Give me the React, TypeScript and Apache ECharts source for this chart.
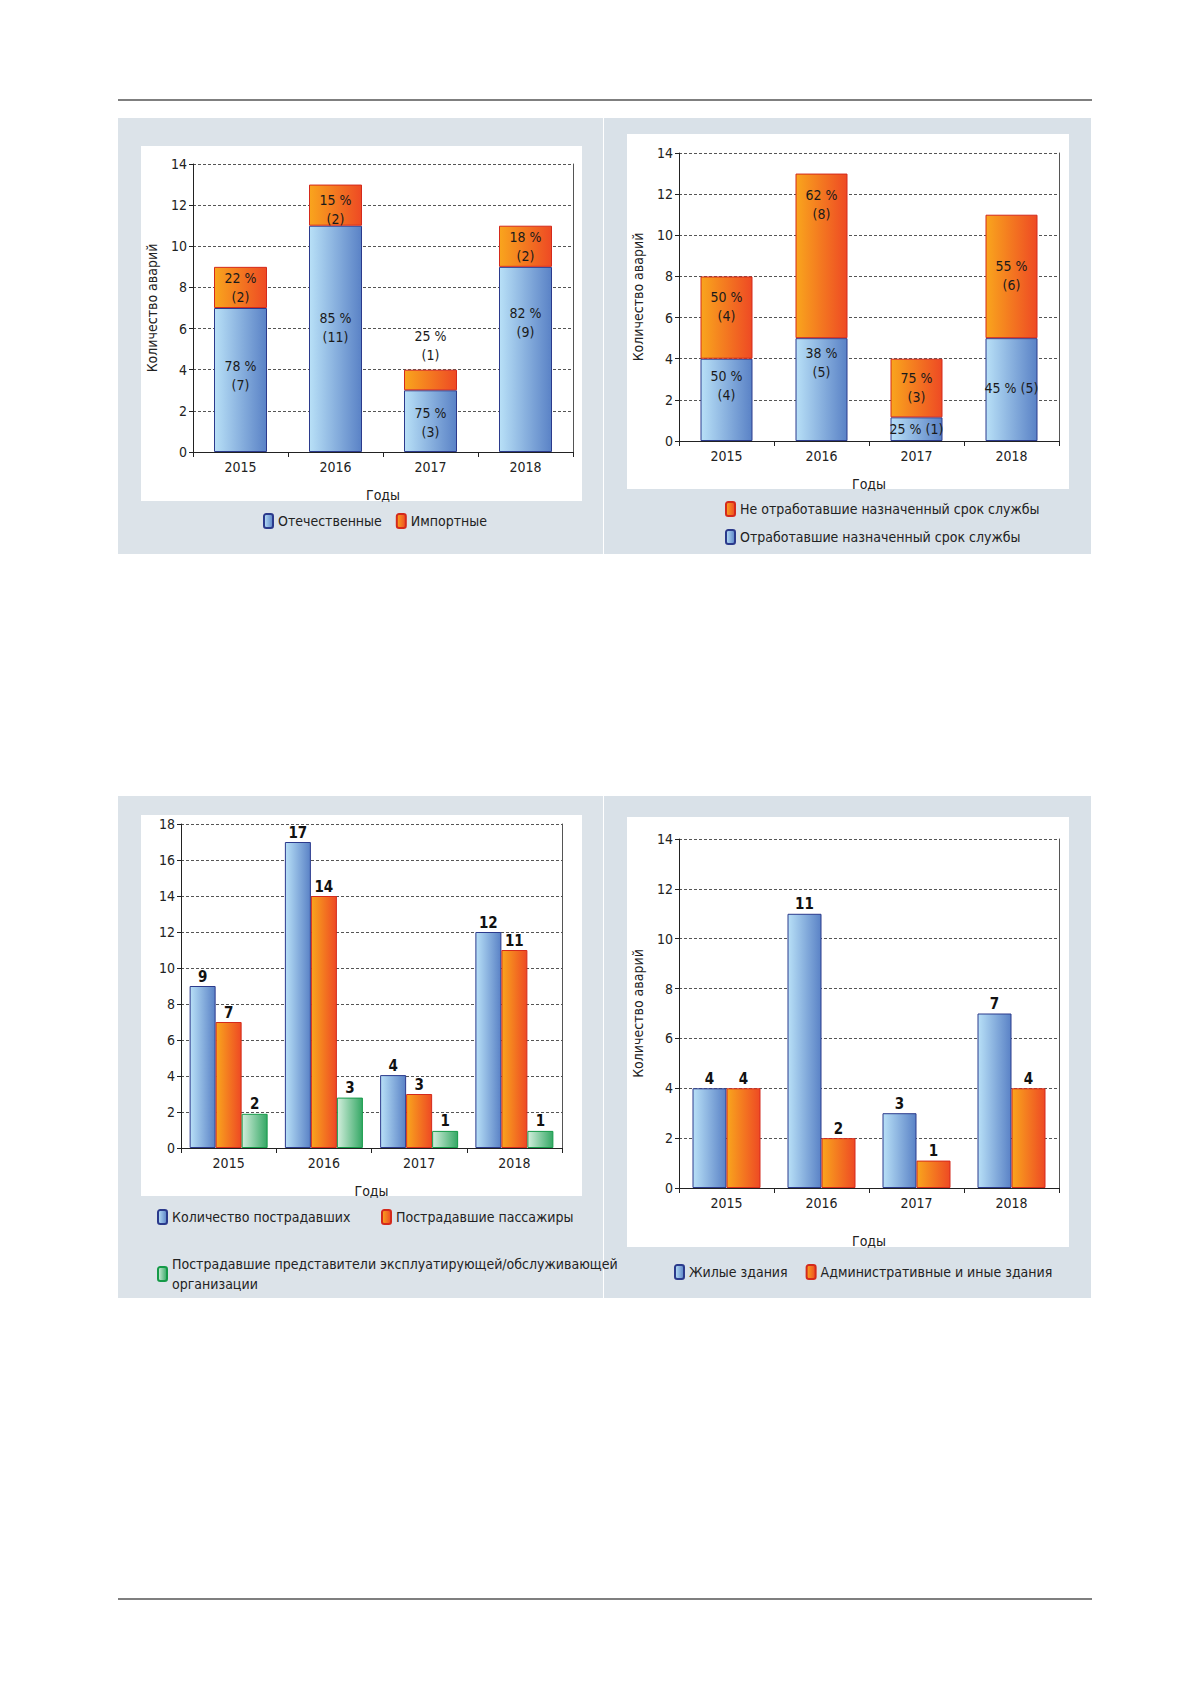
import React, { useEffect, useRef } from "react";
import * as echarts from "echarts";

const years = ["2015", "2016", "2017", "2018"];

// Chart 1
const c1Domestic = [7, 11, 3, 9];
const c1Imported = [2, 2, 1, 2];
const c1DomLabels = ["78 %\n(7)", "85 %\n(11)", "75 %\n(3)", "82 %\n(9)"];
const c1ImpLabels = ["22 %\n(2)", "15 %\n(2)", "25 %\n(1)", "18 %\n(2)"];

// Chart 2
const c2Worked = [4, 5, 1.15, 5];
const c2NotWorked = [4, 8, 2.85, 6];
const c2WorkedLabels = ["50 %\n(4)", "38 %\n(5)", "25 % (1)", "45 % (5)"];
const c2NotLabels = ["50 %\n(4)", "62 %\n(8)", "75 %\n(3)", "55 %\n(6)"];

// Chart 3
const c3Total = [9, 17, 4.05, 12];
const c3Pass = [7, 14, 3, 11];
const c3Staff = [1.9, 2.8, 0.95, 0.95];
const c3TotalLabels = ["9", "17", "4", "12"];
const c3PassLabels = ["7", "14", "3", "11"];
const c3StaffLabels = ["2", "3", "1", "1"];

// Chart 4
const c4Living = [4, 11, 3, 7];
const c4Admin = [4, 2, 1.1, 4];
const c4LivingLabels = ["4", "11", "3", "7"];
const c4AdminLabels = ["4", "2", "1", "4"];

const FONT = "'Liberation Sans Narrow', 'DejaVu Sans Condensed', 'Roboto', sans-serif";

const grad = (a: string, b: string) =>
  new echarts.graphic.LinearGradient(0, 0, 1, 0, [
    { offset: 0, color: a },
    { offset: 1, color: b },
  ]);
const blueStyle = () => ({ color: grad("#b8e0f7", "#5a82c6"), borderColor: "#2b3a8c", borderWidth: 1 });
const orangeStyle = () => ({ color: grad("#f9a51d", "#ee4a24"), borderColor: "#d42a1c", borderWidth: 1 });
const greenStyle = () => ({ color: grad("#d2eedc", "#35a865"), borderColor: "#159a48", borderWidth: 1 });

const labTxt = { color: "#1a1a1a", fontFamily: FONT, fontSize: 14, lineHeight: 19 };

function stackedData(vals: number[], labels: string[], fracs: (number | null)[]) {
  return vals.map((v, i) => ({
    value: v,
    label: fracs[i] === null
      ? { show: true, position: "top", distance: 5, formatter: labels[i], ...labTxt }
      : {
          show: true,
          position: ["50%", (fracs[i] as number) * 100 + "%"],
          align: "center",
          verticalAlign: "middle",
          formatter: labels[i],
          ...labTxt,
        },
  }));
}

function plainData(vals: number[], labels: string[]) {
  return vals.map((v, i) => ({
    value: v,
    label: {
      show: true,
      position: "top",
      distance: 2,
      formatter: labels[i],
      color: "#111",
      fontFamily: FONT,
      fontSize: 15,
      fontWeight: "bold",
    },
  }));
}

function xAx(gi: number, nameGap: number) {
  return {
    type: "category",
    gridIndex: gi,
    data: years,
    name: "Годы",
    nameLocation: "middle",
    nameGap,
    nameTextStyle: { color: "#222", fontFamily: FONT, fontSize: 14 },
    axisLine: { lineStyle: { color: "#222" } },
    axisTick: { show: true, length: 5, lineStyle: { color: "#222" } },
    axisLabel: { color: "#222", fontFamily: FONT, fontSize: 14, margin: 8 },
  };
}
function yAx(gi: number, max: number, withName: boolean) {
  return {
    type: "value",
    gridIndex: gi,
    min: 0,
    max,
    interval: 2,
    name: withName ? "Количество аварий" : "",
    nameLocation: "middle",
    nameRotate: 90,
    nameGap: 34,
    nameTextStyle: { color: "#222", fontFamily: FONT, fontSize: 14 },
    axisLine: { show: true, lineStyle: { color: "#222" } },
    axisTick: { show: true, length: 4, lineStyle: { color: "#222" } },
    axisLabel: { color: "#222", fontFamily: FONT, fontSize: 14, margin: 6 },
    splitLine: { show: true, lineStyle: { color: "#555", type: [3, 2], width: 1 } },
  };
}
function yRight(gi: number, max: number) {
  return {
    type: "value",
    gridIndex: gi,
    position: "right",
    min: 0,
    max,
    interval: 2,
    axisLine: { show: true, lineStyle: { color: "#555" } },
    axisTick: { show: false },
    axisLabel: { show: false },
    splitLine: { show: false },
  };
}

const legText = { color: "#222", fontFamily: FONT, fontSize: 14 };

export default function App() {
  const ref = useRef<HTMLDivElement>(null);
  useEffect(() => {
    if (!ref.current) return;
    const chart = echarts.init(ref.current, null, { renderer: "svg" });
    const panel = "#d9e1e8";
    chart.setOption({
      animation: false,
      graphic: [
        { type: "line", shape: { x1: 118, y1: 100, x2: 1092, y2: 100 }, style: { stroke: "#555", lineWidth: 1.5 } },
        { type: "line", shape: { x1: 118, y1: 1599, x2: 1092, y2: 1599 }, style: { stroke: "#555", lineWidth: 1.5 } },
        { type: "rect", shape: { x: 118, y: 118, width: 485, height: 436 }, style: { fill: "#dce3e9" } },
        { type: "rect", shape: { x: 604, y: 118, width: 487, height: 436 }, style: { fill: panel } },
        { type: "rect", shape: { x: 118, y: 796, width: 485, height: 502 }, style: { fill: "#dce3e9" } },
        { type: "rect", shape: { x: 604, y: 796, width: 487, height: 502 }, style: { fill: panel } },
        { type: "rect", shape: { x: 141, y: 146, width: 441, height: 355 }, style: { fill: "#fff" } },
        { type: "rect", shape: { x: 627, y: 134, width: 442, height: 355 }, style: { fill: "#fff" } },
        { type: "rect", shape: { x: 141, y: 815, width: 441, height: 381 }, style: { fill: "#fff" } },
        { type: "rect", shape: { x: 627, y: 817, width: 442, height: 430 }, style: { fill: "#fff" } },
      ],
      grid: [
        { left: 193, right: 606, top: 164, bottom: 1229 },
        { left: 679, right: 120, top: 153, bottom: 1240 },
        { left: 181, right: 617, top: 824, bottom: 533 },
        { left: 679, right: 120, top: 839, bottom: 493 },
      ],
      xAxis: [xAx(0, 36), xAx(1, 36), xAx(2, 36), xAx(3, 46)],
      yAxis: [
        yAx(0, 14, true), yAx(1, 14, true), yAx(2, 18, false), yAx(3, 14, true),
        yRight(0, 14), yRight(1, 14), yRight(2, 18), yRight(3, 14),
      ],
      legend: [
        {
          data: ["Отечественные", "Импортные"], left: 258, top: 508, itemWidth: 9, itemHeight: 14,
          itemGap: 14, textStyle: legText,
        },
        {
          data: ["Не отработавшие назначенный срок службы", "Отработавшие назначенный срок службы"],
          orient: "vertical", left: 720, top: 496, itemWidth: 9, itemHeight: 14, itemGap: 12, textStyle: legText,
        },
        {
          data: ["Количество пострадавших"], left: 152, top: 1204, itemWidth: 9, itemHeight: 14, textStyle: legText,
        },
        {
          data: ["Пострадавшие пассажиры"], left: 376, top: 1204, itemWidth: 9, itemHeight: 14, textStyle: legText,
        },
        {
          data: ["Пострадавшие представители"], left: 152, top: 1239, itemWidth: 9, itemHeight: 14,
          formatter: () => "Пострадавшие представители эксплуатирующей/обслуживающей\nорганизации",
          textStyle: { ...legText, lineHeight: 20, padding: [20, 0, 0, 0] },
        },
        {
          data: ["Жилые здания", "Административные и иные здания"], left: 669, top: 1259,
          itemWidth: 9, itemHeight: 14, itemGap: 18, textStyle: legText,
        },
      ],
      series: [
        {
          name: "Отечественные", type: "bar", stack: "a", xAxisIndex: 0, yAxisIndex: 0, barWidth: 53,
          itemStyle: blueStyle(),
          data: stackedData(c1Domestic, c1DomLabels, [0.47, 0.45, 0.53, 0.3]),
        },
        {
          name: "Импортные", type: "bar", stack: "a", xAxisIndex: 0, yAxisIndex: 0, barWidth: 53,
          itemStyle: orangeStyle(),
          data: stackedData(c1Imported, c1ImpLabels, [0.5, 0.6, null, 0.5]),
        },
        {
          name: "Отработавшие назначенный срок службы", type: "bar", stack: "b", xAxisIndex: 1, yAxisIndex: 1,
          barWidth: 52, itemStyle: blueStyle(),
          data: stackedData(c2Worked, c2WorkedLabels, [0.32, 0.24, 0.5, 0.48]),
        },
        {
          name: "Не отработавшие назначенный срок службы", type: "bar", stack: "b", xAxisIndex: 1, yAxisIndex: 1,
          barWidth: 52, itemStyle: orangeStyle(),
          data: stackedData(c2NotWorked, c2NotLabels, [0.37, 0.19, 0.49, 0.49]),
        },
        {
          name: "Количество пострадавших", type: "bar", xAxisIndex: 2, yAxisIndex: 2, barWidth: 26, barGap: "0%",
          itemStyle: blueStyle(), data: plainData(c3Total, c3TotalLabels),
        },
        {
          name: "Пострадавшие пассажиры", type: "bar", xAxisIndex: 2, yAxisIndex: 2, barWidth: 26, barGap: "0%",
          itemStyle: orangeStyle(), data: plainData(c3Pass, c3PassLabels),
        },
        {
          name: "Пострадавшие представители", type: "bar", xAxisIndex: 2, yAxisIndex: 2, barWidth: 26, barGap: "0%",
          itemStyle: greenStyle(), data: plainData(c3Staff, c3StaffLabels),
        },
        {
          name: "Жилые здания", type: "bar", xAxisIndex: 3, yAxisIndex: 3, barWidth: 34, barGap: "0%",
          itemStyle: blueStyle(), data: plainData(c4Living, c4LivingLabels),
        },
        {
          name: "Административные и иные здания", type: "bar", xAxisIndex: 3, yAxisIndex: 3, barWidth: 34, barGap: "0%",
          itemStyle: orangeStyle(), data: plainData(c4Admin, c4AdminLabels),
        },
      ],
    });
    return () => chart.dispose();
  }, []);
  return (
    <div
      ref={ref}
      style={{ position: "absolute", left: 0, top: 0, width: 1179, height: 1681, background: "#fff" }}
    />
  );
}
